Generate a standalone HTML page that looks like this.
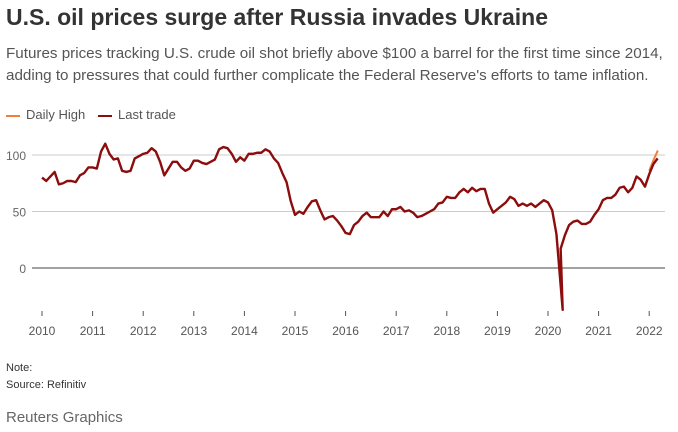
<!DOCTYPE html>
<html><head><meta charset="utf-8"><style>
body{margin:0;width:678px;height:432px;background:#fff;font-family:"Liberation Sans",sans-serif;overflow:hidden;position:relative}
.t{position:absolute;left:6px;top:4px;font-size:23px;font-weight:bold;color:#333}
.s{position:absolute;left:6px;top:43px;font-size:15.2px;line-height:22px;color:#555}
.lg{position:absolute;top:107px;font-size:13px;color:#555}
.sw{display:inline-block;width:14px;height:2px;vertical-align:middle;margin-right:6px}
.n{position:absolute;left:6px;font-size:11px;color:#333}
</style></head><body>
<div class="t">U.S. oil prices surge after Russia invades Ukraine</div>
<div class="s">Futures prices tracking U.S. crude oil shot briefly above $100 a barrel for the first time since 2014,<br>adding to pressures that could further complicate the Federal Reserve's efforts to tame inflation.</div>
<div class="lg" style="left:6px"><span class="sw" style="background:#f07d3a"></span>Daily High</div>
<div class="lg" style="left:98px"><span class="sw" style="background:#8b0d0d"></span>Last trade</div>
<svg id="c" width="678" height="340" style="position:absolute;left:0;top:0"></svg>
<div class="n" style="top:362px">Note:</div>
<div class="n" style="top:379px">Source: Refinitiv</div>
<div style="position:absolute;left:6px;top:409px;font-size:15px;color:#666">Reuters Graphics</div>
<script>
const lastVals=[80,77,81,85,74,75,77,77,76,82,84,89,
89,88,103,110,101,96,97,86,85,86,97,99,
101,102,106,103,94,82,88,94,94,89,86,88,
95,95,93,92,94,96,105,107,106,101,94,98,
95,101,101,102,102,105,103,97,93,84,76,59,
47,50,48,54,59,60,51,43,45,46,42,37,
31,30,38,41,46,49,45,45,45,50,46,52,
52,54,50,51,49,45,46,48,50,52,57,58,
63,62,62,67,70,67,71,68,70,70,57,49,
52,55,58,63,61,55,57,55,57,54,57,60,
58,51,30,-37,17,29,38,41,42,39,39,41,47,
52,60,62,62,65,71,72,67,71,81,78,72,
83,92,97];
const highDates=[2022.0,2022.08,2022.17];
const highVals=[86,95,104];
const yTicks=[0,50,100];
const xTicks=[2010,2011,2012,2013,2014,2015,2016,2017,2018,2019,2020,2021,2022];
const ns="http://www.w3.org/2000/svg";
const svg=document.getElementById('c');
const X=t=>42+(t-2010)*50.6;
const Y=v=>268-v*1.13;
const dates=[];
for(let i=0,m=0;i<lastVals.length;i++){
  if(i===123){dates.push(2020.29);continue;}
  dates.push(2010+m/12);m++;
}
function el(tag,a){const e=document.createElementNS(ns,tag);for(const k in a)e.setAttribute(k,a[k]);svg.appendChild(e);return e;}
yTicks.forEach(v=>{
  const g=el('line',{x1:32,x2:665,y1:Y(v),y2:Y(v),stroke:v===0?'#444':'#ccc','stroke-width':1});
  
  
  const t=el('text',{x:26,y:Y(v)+5,'text-anchor':'end','font-size':12,fill:'#666'});
  t.textContent=v;
  
  
});
xTicks.forEach(yr=>{
  const l=el('line',{x1:X(yr),x2:X(yr),y1:311,y2:316,stroke:'#555'});
  
  
  const t=el('text',{x:X(yr),y:335,'text-anchor':'middle','font-size':12,fill:'#555'});
  t.textContent=yr;
  
  
});
const hp=el('polyline',{points:highDates.map((d,i)=>X(d)+','+Y(highVals[i])).join(' '),fill:'none',stroke:'#f07d3a','stroke-width':2});


const lp=el('polyline',{points:dates.map((d,i)=>X(d)+','+Y(lastVals[i])).join(' '),fill:'none',stroke:'#8b0d0d','stroke-width':2.4,'stroke-linejoin':'round'});


</script>
</body></html>
